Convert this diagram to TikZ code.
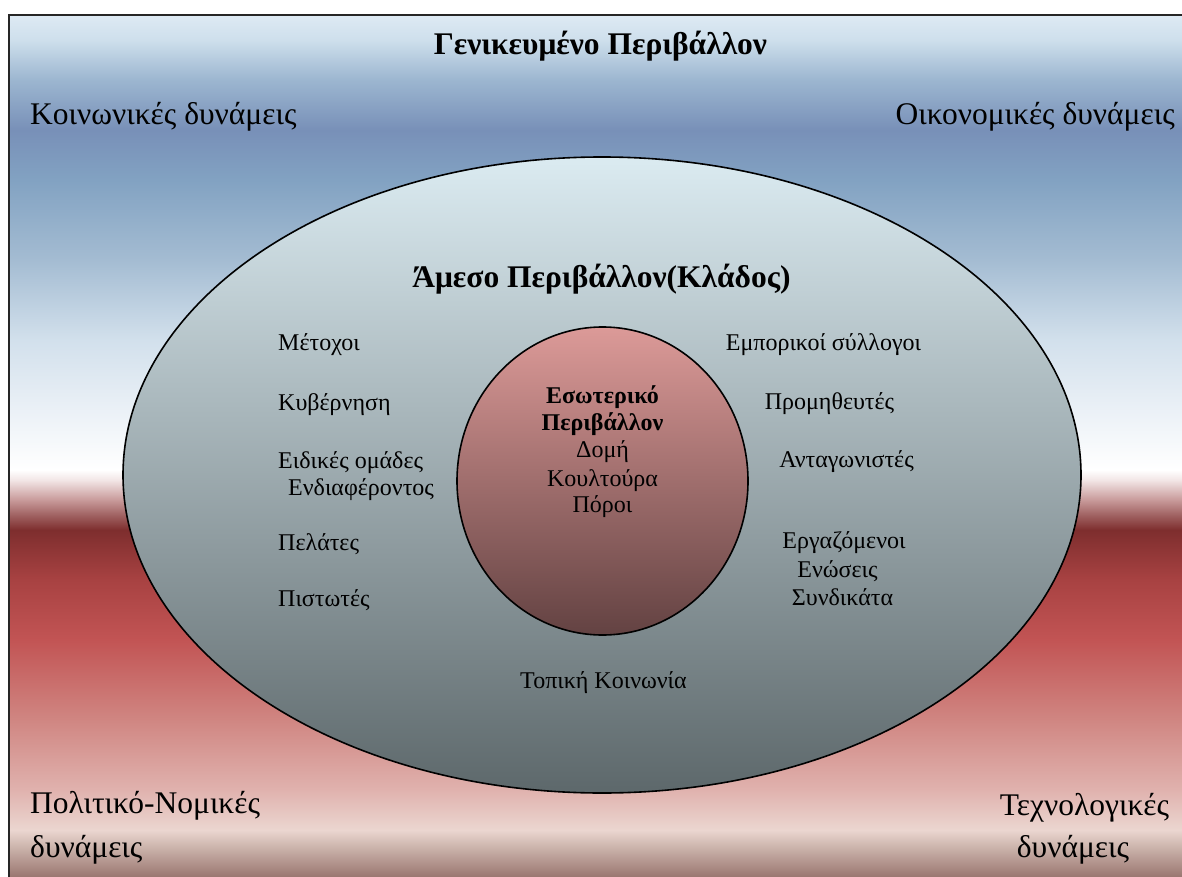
\documentclass[tikz,border=0pt]{standalone}
\usepackage{fontspec}
\setmainfont{Liberation Serif}
\usetikzlibrary{shapes.geometric}
\definecolor{bA}{HTML}{9A7670}
\definecolor{bB}{HTML}{CFB8B0}
\definecolor{bC}{HTML}{EBD6D0}
\definecolor{bD}{HTML}{E0B2AE}
\definecolor{bE}{HTML}{D08682}
\definecolor{bF}{HTML}{C25454}
\definecolor{bG}{HTML}{A84242}
\definecolor{bH}{HTML}{7E2E2E}
\definecolor{bI}{HTML}{A06262}
\definecolor{bJ}{HTML}{C89A9A}
\definecolor{bK}{HTML}{F2E6E6}
\definecolor{bL}{HTML}{FFFFFF}
\definecolor{bM}{HTML}{EEF3F8}
\definecolor{bN}{HTML}{D2E0EC}
\definecolor{bO}{HTML}{A4BCD2}
\definecolor{bP}{HTML}{82A2C2}
\definecolor{bQ}{HTML}{7890B8}
\definecolor{bR}{HTML}{9CB6D0}
\definecolor{bS}{HTML}{CEDFEC}
\definecolor{bT}{HTML}{DEEAF4}
\pgfdeclareverticalshading{envbg}{100bp}{color(0bp)=(bA); color(25bp)=(bA); color(26.86bp)=(bB); color(27.73bp)=(bC); color(30.05bp)=(bD); color(34.11bp)=(bE); color(38.75bp)=(bF); color(42.23bp)=(bG); color(45.13bp)=(bH); color(46.00bp)=(bI); color(46.87bp)=(bJ); color(48.03bp)=(bK); color(48.61bp)=(bL); color(51.51bp)=(bM); color(56.15bp)=(bN); color(60.79bp)=(bO); color(65.43bp)=(bP); color(68.33bp)=(bQ); color(71.23bp)=(bR); color(73.55bp)=(bS); color(75bp)=(bT); color(100bp)=(bT)}
\definecolor{elTop}{HTML}{DBEBF1}
\definecolor{elMid}{HTML}{A9B8BD}
\definecolor{elBot}{HTML}{5D686B}
\definecolor{ciTop}{HTML}{DC9A98}
\definecolor{ciMid}{HTML}{A87070}
\definecolor{ciBot}{HTML}{634242}
\tikzset{
  big/.style={font=\fontsize{31.5}{36}\selectfont, inner sep=0pt},
  head/.style={font=\fontsize{31.5}{36}\selectfont\bfseries, inner sep=0pt},
  lbl/.style={font=\fontsize{24}{28}\selectfont, inner sep=0pt},
  inlbl/.style={font=\fontsize{24}{28}\selectfont, inner sep=0pt},
  inbold/.style={font=\fontsize{24}{28}\selectfont\bfseries, inner sep=0pt},
}
\begin{document}
\begin{tikzpicture}[x=1pt,y=-1pt]
\useasboundingbox (0,0) rectangle (1182,877);
\fill[white] (0,0) rectangle (1182,877);
\shade[shading=envbg] (8.5,15) rectangle (1182,877);
\draw[line width=2pt, black!85] (8.5,877) -- (8.5,15) -- (1182,15);
\node[ellipse, draw, line width=1.6pt, inner sep=0pt, minimum width=958pt, minimum height=636pt,
      top color=elTop, middle color=elMid, bottom color=elBot] (amesso) at (602,475) {};
\node[ellipse, draw, line width=1.6pt, inner sep=0pt, minimum width=291pt, minimum height=308pt,
      top color=ciTop, middle color=ciMid, bottom color=ciBot] (eso) at (602.5,481) {};
% general environment
\node[head, anchor=base] (gen) at (600.5,55) {Γενικευμένο Περιβάλλον};
\node[big, anchor=base west] (koin) at (30,125) {Κοινωνικές δυνάμεις};
\node[big, anchor=base east] (oik) at (1175,125) {Οικονομικές δυνάμεις};
\node[big, anchor=base west] (pol1) at (30,813) {Πολιτικό-Νομικές};
\node[big, anchor=base west] (pol2) at (30,857) {δυνάμεις};
\node[big, anchor=base] (tech1) at (1084.5,815) {Τεχνολογικές};
\node[big, anchor=base] (tech2) at (1073,857) {δυνάμεις};
% immediate environment
\node[head, anchor=base] (amhead) at (601.5,287) {Άμεσο Περιβάλλον(Κλάδος)};
\node[lbl, anchor=base west] (l1) at (278,350) {Μέτοχοι};
\node[lbl, anchor=base west] (l2) at (278,410) {Κυβέρνηση};
\node[lbl, anchor=base west] (l3) at (278,468) {Ειδικές ομάδες};
\node[lbl, anchor=base west] (l3b) at (288,495) {Ενδιαφέροντος};
\node[lbl, anchor=base west] (l4) at (278,550) {Πελάτες};
\node[lbl, anchor=base west] (l5) at (278,606) {Πιστωτές};
\node[lbl, anchor=base] (r1) at (823.5,350) {Εμπορικοί σύλλογοι};
\node[lbl, anchor=base] (r2) at (829.5,409) {Προμηθευτές};
\node[lbl, anchor=base] (r3) at (846.5,467) {Ανταγωνιστές};
\node[lbl, anchor=base] (r4) at (844,548) {Εργαζόμενοι};
\node[lbl, anchor=base] (r5) at (837.5,577) {Ενώσεις};
\node[lbl, anchor=base] (r6) at (842.5,605) {Συνδικάτα};
\node[lbl, anchor=base] (topk) at (603.5,688) {Τοπική Κοινωνία};
% internal environment
\node[inbold, anchor=base] (i1) at (602.5,403) {Εσωτερικό};
\node[inbold, anchor=base] (i2) at (602.5,430) {Περιβάλλον};
\node[inlbl, anchor=base] (i3) at (602.5,457) {Δομή};
\node[inlbl, anchor=base] (i4) at (602.5,486) {Κουλτούρα};
\node[inlbl, anchor=base] (i5) at (602.5,512) {Πόροι};
\end{tikzpicture}
\end{document}
